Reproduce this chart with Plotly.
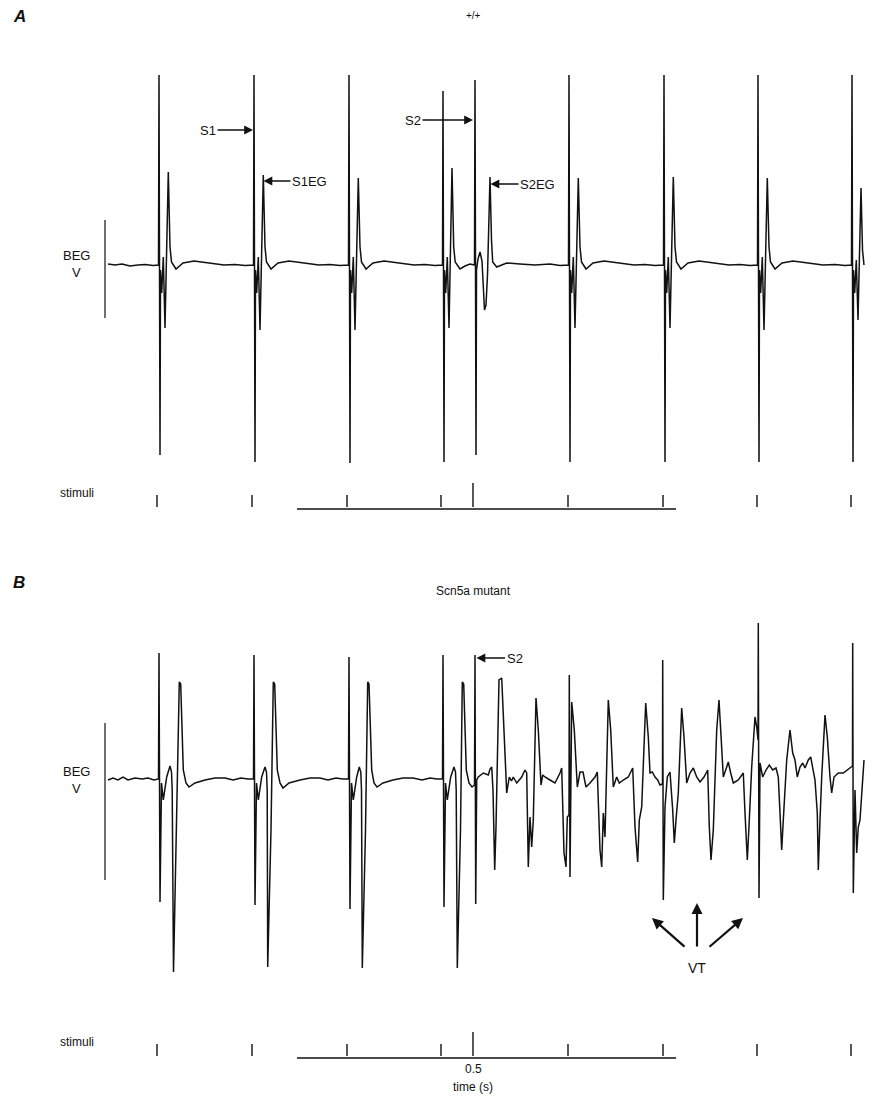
import plotly.graph_objects as go

# ---------------- data (time in ms, voltage in mV) ----------------
# Panel A (+/+) bipolar electrogram, per segment
A_start = [(133, 0.01), (140, 0.0), (147, 0.01), (155, -0.01), (163, 0.0), (170, 0.005), (178, -0.005), (183.5, 0.0)]
A_beat1 = [(184, 1.90), (185, -1.90), (185.5, -0.05), (186.7, -0.28), (188.3, 0.08), (190, -0.63), (193.3, 0.93),
           (195, 0.18), (196.5, 0.03), (201, -0.04), (208, 0.02), (219, 0.04), (234, 0.02), (249, 0.0), (260, 0.005),
           (270, -0.005), (278.5, 0.0)]
A_beat2 = [(279, 1.90), (280, -1.97), (280.5, -0.05), (281.7, -0.28), (283.3, 0.08), (285, -0.65), (288.3, 0.90),
           (290, 0.18), (291.5, 0.03), (296, -0.04), (303, 0.02), (314, 0.04), (329, 0.02), (344, 0.0), (355, 0.005),
           (365, -0.005), (373.5, 0.0)]
A_beat3 = [(374, 1.90), (375, -1.98), (375.5, -0.05), (376.7, -0.28), (378.3, 0.08), (380, -0.65), (383.3, 0.87),
           (385, 0.18), (386.5, 0.03), (391, -0.04), (398, 0.02), (409, 0.04), (424, 0.02), (439, 0.0), (450, 0.005),
           (460, -0.005), (467.5, 0.0)]
A_beat4 = [(468, 1.74), (469, -1.97), (469.5, -0.05), (470.7, -0.28), (472.3, 0.08), (474, -0.63), (477, 0.97),
           (478.7, 0.18), (480.2, 0.03), (485, -0.04), (490, -0.01), (495, 0.01), (499.5, 0.0)]
A_S2 = [(500, 1.85), (501, -1.90), (501.5, -0.05), (503, 0.06), (505, 0.13), (507, 0.04), (509.5, -0.45), (511, -0.40),
        (512.5, -0.10), (515, 0.88), (516.5, 0.25), (517.7, 0.03), (521.7, -0.02), (531.7, 0.02), (545, 0.01),
        (560, 0.0), (575, 0.01), (585, -0.005), (593.5, 0.0)]
A_beat6 = [(594, 1.90), (595, -1.97), (595.5, -0.05), (596.7, -0.28), (598.3, 0.08), (600, -0.63), (603.3, 0.87),
           (605, 0.18), (606.5, 0.03), (611, -0.04), (618, 0.02), (629, 0.04), (644, 0.02), (659, 0.0), (670, 0.005),
           (680, -0.005), (688.5, 0.0)]
A_beat7 = [(689, 1.90), (690, -1.97), (690.5, -0.05), (691.7, -0.28), (693.3, 0.08), (695, -0.63), (698.3, 0.88),
           (700, 0.18), (701.5, 0.03), (706, -0.04), (713, 0.02), (724, 0.04), (739, 0.02), (754, 0.0), (765, 0.005),
           (775, -0.005), (782.5, 0.0)]
A_beat8 = [(783, 1.90), (784, -1.97), (784.5, -0.05), (785.7, -0.28), (787.3, 0.08), (789, -0.65), (792.3, 0.87),
           (794, 0.18), (795.5, 0.03), (800, -0.04), (807, 0.02), (818, 0.04), (833, 0.02), (848, 0.0), (860, 0.005),
           (870, -0.005), (876.5, 0.0)]
A_beat9 = [(877, 1.90), (878, -1.97), (878.5, -0.05), (879.7, -0.28), (881.3, 0.05), (883, -0.55), (886, 0.77),
           (887.5, 0.15), (889, 0.0)]

# Panel B (Scn5a mutant)
B_start = [(133, -0.01), (138, 0.01), (143, -0.01), (148, 0.02), (153, -0.01), (160, 0.01), (167, 0.0), (173, 0.01),
           (179, -0.01), (183.5, 0.0)]
B_beat1 = [(184, 1.26), (185, -1.23), (186.5, -0.04), (188.3, -0.21), (191.7, 0.02), (195, 0.13), (196.5, 0.07),
           (197.2, -0.11), (198.5, -1.93), (201.5, -0.51), (204.3, 0.97), (205.7, 0.95), (208.3, 0.09), (211, -0.04),
           (214, -0.08), (220, -0.04), (230, -0.01), (240, 0.01), (250, 0.01), (258, -0.01), (266, 0.01), (273, 0.0),
           (278.5, 0.0)]
B_beat2 = [(279, 1.24), (280, -1.26), (281.5, -0.04), (283.3, -0.21), (286.7, 0.02), (290, 0.12), (291.5, 0.07),
           (292.2, -0.11), (292.7, -1.88), (296, -0.51), (298.3, 0.97), (299.7, 0.95), (302.3, 0.09), (305, -0.04),
           (308, -0.09), (314, -0.04), (325, -0.01), (335, 0.01), (345, 0.01), (353, -0.01), (361, 0.01), (368, 0.0),
           (373.5, 0.0)]
B_beat3 = [(374, 1.22), (375, -1.30), (376.5, -0.04), (378.3, -0.21), (381.7, 0.02), (384.3, 0.12), (385.8, 0.07),
           (386.5, -0.11), (387.3, -1.89), (390.5, -0.51), (392.7, 0.97), (394, 0.95), (396.7, 0.09), (399, -0.04),
           (402, -0.08), (408, -0.04), (418, -0.01), (428, 0.01), (438, 0.01), (447, -0.01), (455, 0.01), (462, 0.0),
           (467.5, 0.0)]
B_beat4 = [(468, 1.24), (469, -1.28), (470.5, -0.04), (472.3, -0.21), (475.7, 0.02), (479, 0.12), (480.5, 0.07),
           (481.2, -0.11), (482.3, -1.89), (485.5, -0.51), (487.3, 0.97), (488.7, 0.95), (491.3, 0.09), (494, -0.04),
           (497, -0.08), (499.5, -0.06)]
B_S2_VT = [(500, 1.24), (500.7, -1.25), (501.7, -0.01), (503.3, 0.02), (508.3, 0.06), (513.3, 0.04), (515, 0.10),
           (516.7, 0.12), (518, -0.11), (519.7, -0.91), (521, -0.48), (524, 0.99), (526.7, 1.01), (529, 0.49),
           (531.7, -0.14), (534.3, 0.02), (536.5, -0.02), (538.3, 0.02), (541.7, -0.04), (546.7, 0.02), (550, 0.09),
           (551.7, 0.06), (553.3, -0.88), (555, -0.38), (556.7, -0.68), (558.3, -0.41), (561, 0.81), (563.3, 0.49),
           (566, -0.06), (567.7, 0.04), (570, 0.02), (575, -0.01), (580, -0.04), (585, 0.06), (586.7, 0.11),
           (589, -0.74), (591, -0.88), (592.3, -0.38), (594, -0.36), (594.3, 1.04), (595, -0.98), (596.7, 0.77),
           (599.3, 0.49), (602.3, -0.08), (605, 0.07), (608, 0.07), (611, -0.08), (615, -0.04), (620, 0.02),
           (622.3, 0.07), (625, -0.71), (626.7, -0.88), (628.3, -0.34), (630, -0.58), (633.3, 0.79), (635.7, 0.49),
           (638.3, -0.08), (641.7, 0.02), (644.3, -0.04), (648.3, -0.01), (653.3, 0.02), (657.7, 0.11), (660, -0.48),
           (662.7, -0.83), (664.3, -0.41), (666.7, -0.28), (670.7, 0.76), (673.3, 0.42), (675, 0.06), (677.3, 0.07),
           (680, 0.02), (682.7, -0.01), (685, -0.06), (687.5, -0.05), (687.7, 1.19), (688.3, -1.21), (690, -0.28),
           (692.3, 0.02), (695, 0.07), (697.7, -0.31), (699.3, -0.64), (701, -0.41), (703.3, -0.14), (706.7, 0.71),
           (709, 0.42), (711.7, -0.04), (715, 0.06), (718.3, 0.11), (721.7, 0.02), (725, -0.03), (729, 0.02),
           (732.7, 0.09), (734.3, -0.48), (736, -0.81), (738.3, -0.51), (741.7, 0.49), (744, 0.79), (745.7, 0.49),
           (748.3, 0.02), (751.7, 0.12), (753.3, 0.17), (755.7, 0.06), (758.3, -0.04), (763.3, -0.01), (768.3, 0.06),
           (770, -0.34), (772.3, -0.81), (774.3, -0.41), (776.7, 0.12), (780, 0.62), (781.7, 0.52), (783, 0.39),
           (783.3, 1.56), (784, -1.19), (785, 0.16), (787.7, 0.02), (791, 0.09), (794.3, 0.14), (797.7, 0.09),
           (801, 0.11), (803.3, 0.02), (805, -0.34), (806.7, -0.71), (808.3, -0.41), (811.7, 0.19), (815, 0.49),
           (817.7, 0.26), (820, 0.19), (822.3, 0.02), (825, 0.12), (827.7, 0.16), (830, 0.11), (833.3, 0.19),
           (835.7, 0.22), (838.3, 0.09), (840, -0.01), (842.3, -0.34), (843.3, -0.91), (845, -0.41), (846.7, 0.02),
           (850, 0.64), (852.3, 0.42), (855, 0.02), (856.7, -0.14), (859, 0.02), (863.3, 0.06), (868.3, 0.06),
           (875, 0.11), (877.5, 0.13), (877.7, 1.36), (878.3, -1.14), (880, -0.11), (881.7, -0.74), (883.3, -0.48),
           (885, -0.41), (887, -0.11), (889, 0.19)]

# stimulus channel (ms) and relative amplitude (S2 drawn taller)
stim_times = [182, 277, 372, 466, 498, 593, 688, 782, 876]
stim_amps = [1, 1, 1, 1, 2, 1, 1, 1, 1]
time_bar = [322, 701]          # ms, time axis line under the stimuli
scale_A = [0.45, -0.53]        # mV, vertical calibration bar panel A
scale_B = [0.56, -1.01]        # mV, vertical calibration bar panel B
scale_x = 130                  # ms

# ---------------- figure ----------------
OFF = 8                      # page body margin
PW, PH = 874, 1103           # page size
W, H = PW - OFF, PH - OFF    # figure size
BLACK = "#111111"
FONT = "Liberation Sans, Arial, sans-serif"


def seg(*parts):
    xs, ys = [], []
    for p in parts:
        for t, v in p:
            xs.append(t)
            ys.append(v)
    return xs, ys


fig = go.Figure()
ax_, ay_ = seg(A_start, A_beat1, A_beat2, A_beat3, A_beat4, A_S2, A_beat6, A_beat7, A_beat8, A_beat9)
fig.add_trace(go.Scatter(x=ax_, y=ay_, mode="lines", line=dict(color=BLACK, width=1.5), yaxis="y"))
bx_, by_ = seg(B_start, B_beat1, B_beat2, B_beat3, B_beat4, B_S2_VT)
fig.add_trace(go.Scatter(x=bx_, y=by_, mode="lines", line=dict(color=BLACK, width=1.5), yaxis="y3"))

# calibration bars
fig.add_trace(go.Scatter(x=[scale_x, scale_x], y=scale_A, mode="lines", line=dict(color=BLACK, width=1.2), yaxis="y"))
fig.add_trace(go.Scatter(x=[scale_x, scale_x], y=scale_B, mode="lines", line=dict(color=BLACK, width=1.2), yaxis="y3"))

# stimuli rows
sx, sy = [], []
for t, a in zip(stim_times, stim_amps):
    sx += [t, t, None]
    sy += [0, a, None]
for yax in ("y2", "y4"):
    fig.add_trace(go.Scatter(x=sx, y=sy, mode="lines", line=dict(color=BLACK, width=1.4), yaxis=yax))
    fig.add_trace(go.Scatter(x=time_bar, y=[-0.17, -0.17], mode="lines", line=dict(color=BLACK, width=1.4), yaxis=yax))


def px_x(px):
    return (px - OFF) / W


def px_y(py):
    return 1 - (py - OFF) / H


def label(text, px, py, size=12, bold=False, italic=False):
    t = text
    if bold:
        t = "<b>" + t + "</b>"
    if italic:
        t = "<i>" + t + "</i>"
    fig.add_annotation(x=px_x(px), y=px_y(py), xref="paper", yref="paper", text=t, showarrow=False,
                       font=dict(family=FONT, size=size, color=BLACK), xanchor="center", yanchor="middle")


label("A", 19, 17, size=17, bold=True, italic=True)
label("B", 19, 582, size=17, bold=True, italic=True)
label("+/+", 473, 15, size=10)
label("Scn5a mutant", 473, 591, size=12)
for base in (0, 516):
    label("BEG", 76, 255 + base, size=13)
    label("V", 76, 272 + base, size=13)
label("stimuli", 77, 493, size=12)
label("stimuli", 77, 1042, size=12)
label("0.5", 473, 1069, size=12)
label("time (s)", 473, 1087, size=12)


def arrow(text, x, y, yref, ax, ay, size=13, asize=1.1, awidth=1.6):
    fig.add_annotation(x=x, y=y, xref="x", yref=yref, ax=ax, ay=ay, text=text, showarrow=True,
                       arrowhead=2, arrowsize=asize, arrowwidth=awidth, arrowcolor=BLACK,
                       font=dict(family=FONT, size=size, color=BLACK))


arrow("S1", 278, 1.35, "y", -45, 0)
arrow("S1EG", 288.5, 0.84, "y", 46, 0)
arrow("S2", 498, 1.45, "y", -60, 0)
arrow("S2EG", 515.5, 0.81, "y", 47, 0)
arrow("S2", 501.5, 1.21, "y3", 38, 0)
arrow("", 677, -1.39, "y3", 34, 30, asize=1.0, awidth=2.2)
arrow("", 722, -1.24, "y3", 0, 45, asize=1.0, awidth=2.2)
arrow("", 768, -1.39, "y3", -35, 30, asize=1.0, awidth=2.2)
label("VT", 697, 968, size=14)

# axes: page px = t - 25 (ms); voltage 100 px per mV
xr = [OFF + 25, PW + 25]
yA = [(265 - PH) / 100, (265 - OFF) / 100]
yB = [(779 - PH) / 100, (779 - OFF) / 100]
yS_A = [-(PH - 507) / 12, (507 - OFF) / 12]
yS_B = [-(PH - 1056) / 12, (1056 - OFF) / 12]

hidden = dict(visible=False, showgrid=False, zeroline=False, fixedrange=True)
fig.update_layout(
    width=W, height=H, autosize=False,
    margin=dict(l=0, r=0, t=0, b=0, pad=0),
    paper_bgcolor="white", plot_bgcolor="white",
    showlegend=False,
    xaxis=dict(range=xr, domain=[0, 1], **hidden),
    yaxis=dict(range=yA, domain=[0, 1], **hidden),
    yaxis2=dict(range=yS_A, domain=[0, 1], overlaying="y", **hidden),
    yaxis3=dict(range=yB, domain=[0, 1], overlaying="y", **hidden),
    yaxis4=dict(range=yS_B, domain=[0, 1], overlaying="y", **hidden),
)

fig.write_html("out.html")
